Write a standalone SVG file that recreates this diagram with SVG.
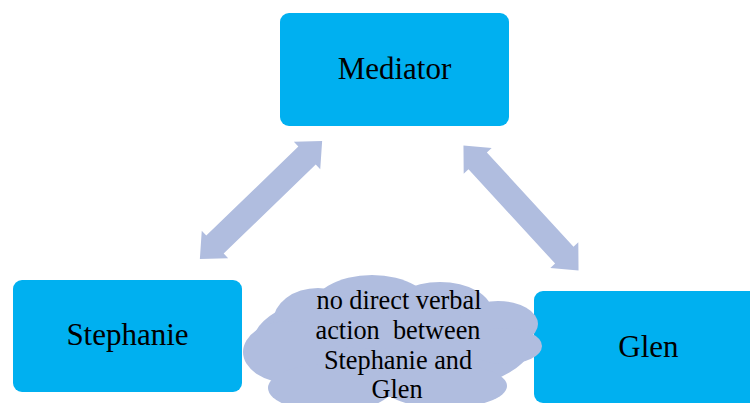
<svg xmlns="http://www.w3.org/2000/svg" xmlns:xlink="http://www.w3.org/1999/xlink" width="750" height="403" viewBox="0 0 750 403">
  <style>
    .box { fill: #00B0F0; }
    text { font-family: "Liberation Serif", "Times New Roman", serif; fill: #000; text-anchor: middle; }
    .label { font-size: 31px; }
    .note { font-size: 26.3px; white-space: pre; }
    .link { fill: #B0BDDF; }
    .cloud { fill: #B0BDDF; }
  </style>
  <defs>
    <!-- double-headed block arrow, centred on the origin, pointing along x -->
    <polygon id="dblArrow" points="-85,0 -64,-19 -64,-12.5 64,-12.5 64,-19 85,0 64,19 64,12.5 -64,12.5 -64,19"/>
  </defs>
  <rect width="750" height="403" fill="#fff"/>

  <g id="connectors">
    <use xlink:href="#dblArrow" class="link" transform="translate(261,200) rotate(-44)"/>
    <use xlink:href="#dblArrow" class="link" transform="translate(521,208) rotate(47.4)"/>
  </g>

  <g id="mediator">
    <rect class="box" x="280" y="13" width="229" height="113" rx="9"/>
    <text class="label" x="394.5" y="79">Mediator</text>
  </g>

  <g id="stephanie">
    <rect class="box" x="13" y="280" width="229" height="112" rx="9"/>
    <text class="label" x="127.5" y="345">Stephanie</text>
  </g>

  <g id="glen">
    <rect class="box" x="534" y="291" width="229" height="112" rx="9"/>
    <text class="label" x="648.5" y="357">Glen</text>
  </g>

  <g id="note">
    <g class="cloud">
      <ellipse cx="393" cy="342" rx="140" ry="55"/>
      <ellipse cx="372" cy="312" rx="62" ry="37"/>
      <ellipse cx="318" cy="322" rx="45" ry="34"/>
      <ellipse cx="440" cy="312" rx="52" ry="30"/>
      <ellipse cx="498" cy="324" rx="40" ry="23"/>
      <ellipse cx="505" cy="346" rx="37" ry="18"/>
      <ellipse cx="290" cy="352" rx="47" ry="31"/>
      <ellipse cx="330" cy="388" rx="62" ry="24"/>
      <ellipse cx="445" cy="386" rx="62" ry="22"/>
    </g>
    <text class="note" x="399" y="309">no direct verbal</text>
    <text class="note" x="398" y="339">action  between</text>
    <text class="note" x="398" y="369">Stephanie and</text>
    <text class="note" x="397" y="398">Glen</text>
  </g>
</svg>
